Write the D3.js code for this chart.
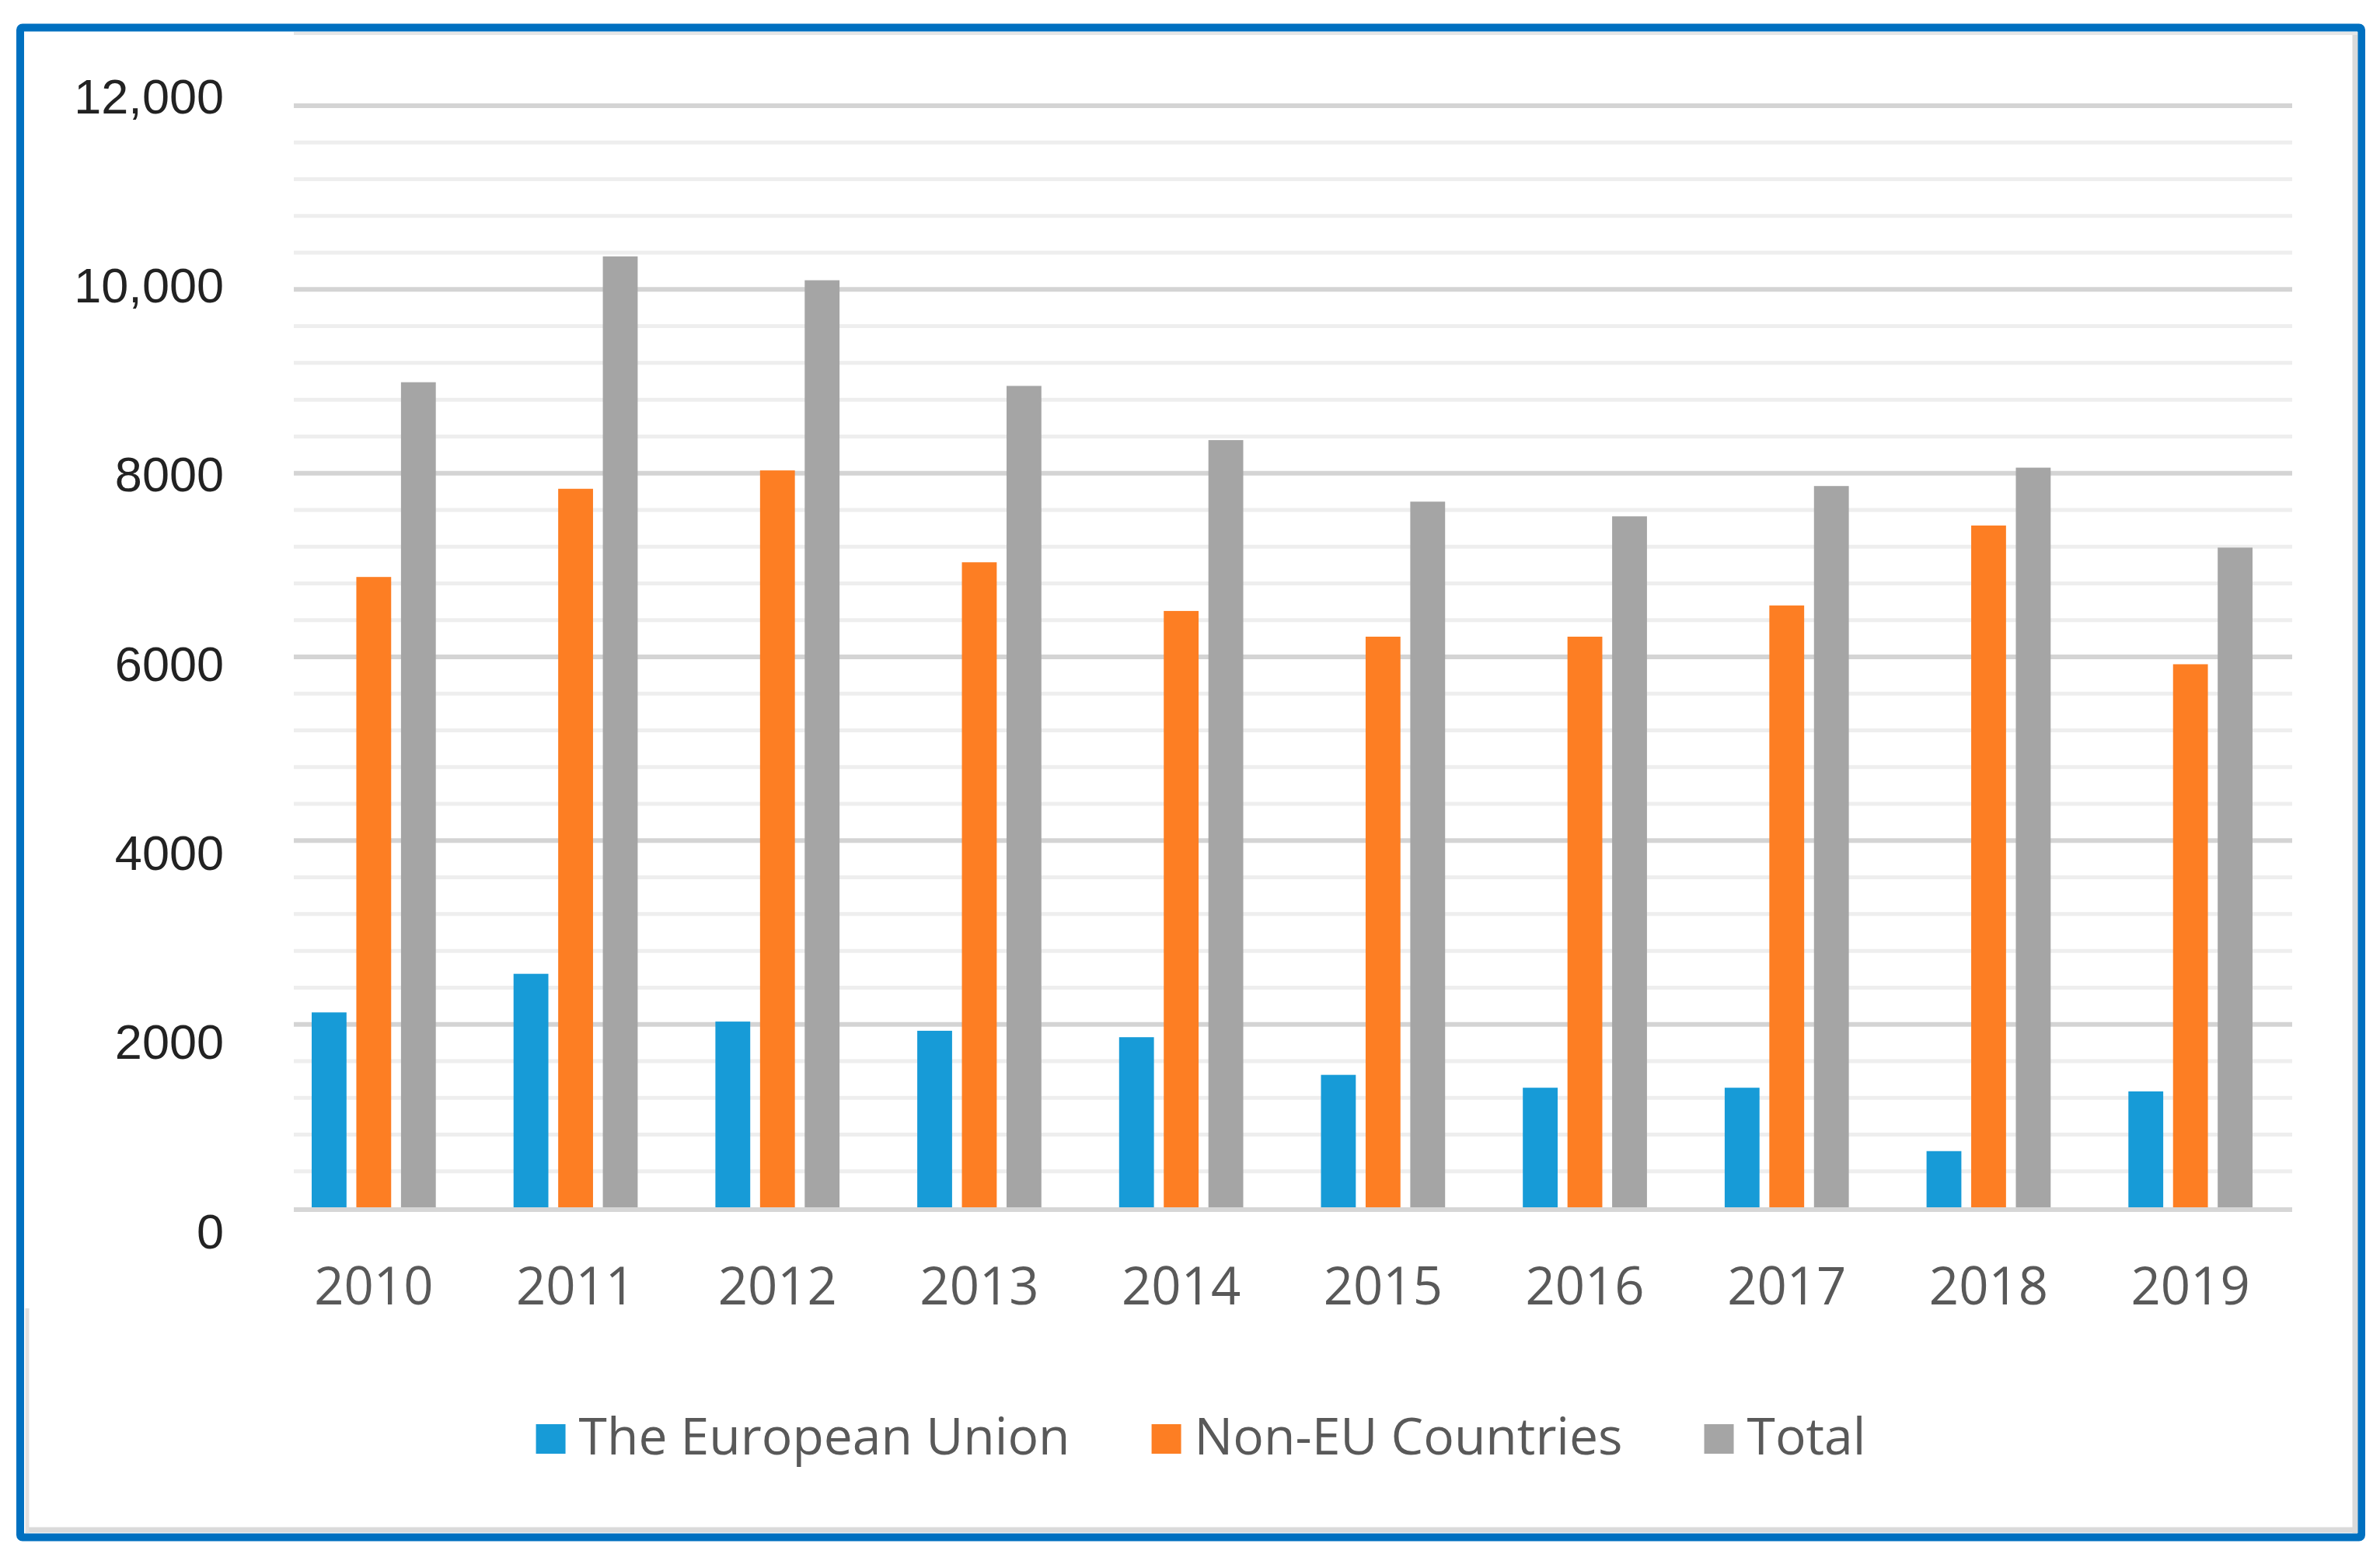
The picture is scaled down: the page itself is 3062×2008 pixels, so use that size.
<!DOCTYPE html>
<html>
<head>
<meta charset="utf-8">
<script src="https://cdn.jsdelivr.net/npm/d3@7"></script>
<style>
  body { margin: 0; background: #fff; }
  svg { display: block; }
</style>
</head>
<body>
<svg id="chart"></svg>
<script>
// data
var years = ["2010", "2011", "2012", "2013", "2014", "2015", "2016", "2017", "2018", "2019"];
var seriesNames = ["The European Union", "Non-EU Countries", "Total"];
var euValues = [2130, 2550, 2030, 1930, 1860, 1450, 1310, 1310, 620, 1270];
var nonEuValues = [6870, 7830, 8030, 7030, 6500, 6220, 6220, 6560, 7430, 5920];
var totalValues = [8990, 10360, 10100, 8950, 8360, 7690, 7530, 7860, 8060, 7190];
var tickValues = [12000, 10000, 8000, 6000, 4000, 2000, 0];
var tickLabels = ["12,000", "10,000", "8000", "6000", "4000", "2000", "0"];
var colors = ["#179bd7", "#fd7e23", "#a5a5a5"];

var W = 3062, H = 2008;
var svg = d3.select("#chart").attr("width", W).attr("height", H);

// outer frame
svg.append("rect")
  .attr("x", 26).attr("y", 35.5)
  .attr("width", 3012).attr("height", 1942)
  .attr("rx", 3)
  .attr("fill", "#fff")
  .attr("stroke", "#0070c0")
  .attr("stroke-width", 10);

// faint inner frame of the pasted picture
var frame = svg.append("g").attr("stroke", "#dadada").attr("stroke-width", 7).attr("fill", "none");
frame.append("line").attr("x1", 3030).attr("x2", 3030).attr("y1", 41).attr("y2", 1972);
frame.append("line").attr("x1", 34).attr("x2", 3033).attr("y1", 1968).attr("y2", 1968);
frame.append("line").attr("x1", 378).attr("x2", 3033).attr("y1", 43).attr("y2", 43).attr("stroke-width", 4).attr("stroke", "#e6e6e6");
frame.append("line").attr("x1", 35).attr("x2", 35).attr("y1", 1683).attr("y2", 1972).attr("stroke-width", 5).attr("stroke", "#e0e0e0");

var plotLeft = 378, plotRight = 2949;

var y = d3.scaleLinear().domain([0, 12000]).range([1554, 136]);
// the scanned tick labels drift slightly from the grid
var yLabel = d3.scaleLinear().domain([0, 12000]).range([1585, 125]);

var x = d3.scaleBand().domain(years).range([351, 2948]).padding(0);
var xs = d3.scaleBand().domain(seriesNames)
  .range([50, x.bandwidth() - 50])
  .paddingInner(0.22).paddingOuter(0);

// grid lines
var minorTicks = d3.range(400, 12001, 400).filter(function(d) { return d % 2000 !== 0; });
var majorTicks = d3.range(2000, 12001, 2000);

svg.append("g").selectAll("line")
  .data(minorTicks)
  .enter().append("line")
  .attr("x1", plotLeft).attr("x2", plotRight)
  .attr("y1", function(d) { return y(d); })
  .attr("y2", function(d) { return y(d); })
  .attr("stroke", "#eeeeee")
  .attr("stroke-width", 5);

svg.append("g").selectAll("line")
  .data(majorTicks)
  .enter().append("line")
  .attr("x1", plotLeft).attr("x2", plotRight)
  .attr("y1", function(d) { return y(d); })
  .attr("y2", function(d) { return y(d); })
  .attr("stroke", "#d4d4d4")
  .attr("stroke-width", 6);

// bars
var table = years.map(function(yr, i) {
  return { year: yr, values: [euValues[i], nonEuValues[i], totalValues[i]] };
});

var groups = svg.append("g").selectAll("g")
  .data(table)
  .enter().append("g")
  .attr("transform", function(d) { return "translate(" + x(d.year) + ",0)"; });

groups.selectAll("rect")
  .data(function(d) { return d.values.map(function(v, k) { return { name: seriesNames[k], value: v, k: k }; }); })
  .enter().append("rect")
  .attr("x", function(d) { return xs(d.name); })
  .attr("width", xs.bandwidth())
  .attr("y", function(d) { return y(d.value); })
  .attr("height", function(d) { return y(0) - y(d.value); })
  .attr("fill", function(d) { return colors[d.k]; });

// baseline
svg.append("line")
  .attr("x1", plotLeft).attr("x2", plotRight)
  .attr("y1", y(0) + 2).attr("y2", y(0) + 2)
  .attr("stroke", "#d6d6d6")
  .attr("stroke-width", 6);

// y axis labels
var yAxis = d3.axisLeft(yLabel)
  .tickValues(tickValues)
  .tickFormat(function(d, i) { return tickLabels[i]; })
  .tickSize(0)
  .tickPadding(0);

var yg = svg.append("g")
  .attr("transform", "translate(288,0)")
  .call(yAxis);
yg.select(".domain").remove();
yg.selectAll("text")
  .attr("font-family", "Liberation Sans, Arial, sans-serif")
  .attr("font-size", 63)
  .attr("fill", "#222");

// x axis labels
var xAxis = d3.axisBottom(x).tickSize(0).tickPadding(76);
var xg = svg.append("g")
  .attr("transform", "translate(0," + y(0) + ")")
  .call(xAxis);
xg.select(".domain").remove();
xg.selectAll("text")
  .attr("font-family", "Open Sans, sans-serif")
  .attr("font-size", 67)
  .attr("fill", "#595959");

// legend
var legend = svg.append("g").attr("transform", "translate(0,1851)");
var items = legend.selectAll("g")
  .data(seriesNames)
  .enter().append("g");

items.append("rect")
  .attr("width", 38).attr("height", 38)
  .attr("y", -19)
  .attr("fill", function(d, i) { return colors[i]; });

items.append("text")
  .attr("x", 55)
  .attr("y", 20)
  .attr("font-family", "Open Sans, sans-serif")
  .attr("font-size", 66)
  .attr("fill", "#595959")
  .text(function(d) { return d; });

var offsets = [], cursor = 0;
items.each(function(d, i) {
  var w = 55 + d3.select(this).select("text").node().getComputedTextLength();
  offsets.push(cursor);
  cursor += w + 105;
});
var totalW = cursor - 105;
var legendStart = 1545 - totalW / 2;
items.attr("transform", function(d, i) { return "translate(" + (legendStart + offsets[i]) + ",0)"; });
</script>
</body>
</html>
